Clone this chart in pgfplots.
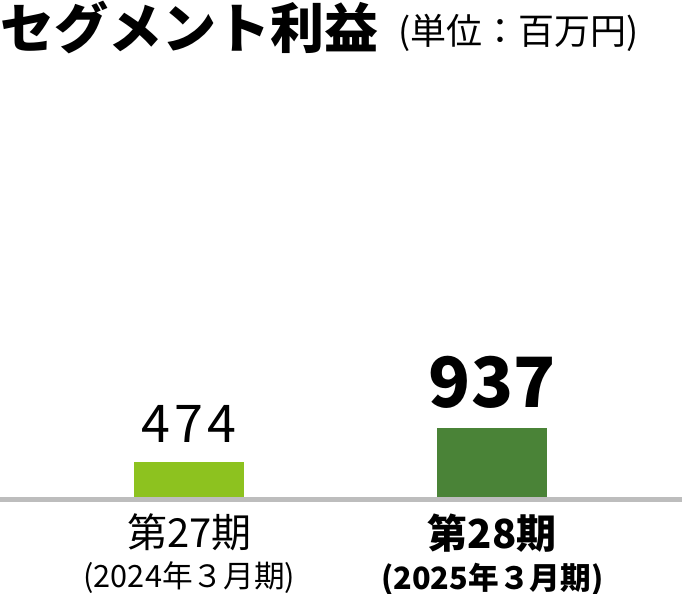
\documentclass[border=0pt]{standalone}
\usepackage{fontspec}
\setmainfont{Noto Sans CJK JP}
\usepackage{pgfplots}
\pgfplotsset{compat=1.18}
\definecolor{lightgreen}{HTML}{8DC21F}
\definecolor{darkgreen}{HTML}{4A8337}
\definecolor{basegray}{HTML}{BDBDBD}

\begin{document}
\begin{tikzpicture}
\useasboundingbox (0,0) rectangle (511.5pt,444.75pt);
% title
\node[anchor=base west, inner sep=0pt] at (0.5pt,408.5pt)
  {\bfseries\fontsize{40.5}{40.5}\selectfont セグメント利益};
\node[anchor=base west, inner sep=0pt] at (298.5pt,411.4pt)
  {\fontsize{27}{27}\selectfont (単位：百万円)};
\begin{axis}[
  at={(0pt,72.3pt)}, anchor=south west,
  scale only axis,
  width=511.5pt, height=312.2pt,
  xmin=-0.6248, xmax=1.626,
  ymin=0, ymax=5696,
  axis line style={draw=none},
  ytick=\empty,
  xtick={0,1},
  xtick style={draw=none},
  major tick length=0pt,
  xticklabels={
    {\fontsize{30}{30}\selectfont 第27期\\[7pt]\fontsize{23}{23}\selectfont (2024年３月期)},
    {\bfseries\fontsize{30}{30}\selectfont 第28期\\[7pt]\bfseries\fontsize{23}{23}\selectfont (2025年３月期)}
  },
  xticklabel style={align=center, anchor=north, inner sep=0pt, yshift=-12.75pt},
  /pgf/number format/assume math mode=true,
  clip=false,
]
\draw[basegray, line width=3.75pt]
  ([yshift=-1.875pt]rel axis cs:0,0) -- ([yshift=-1.875pt]rel axis cs:1,0);
\addplot[ybar, bar width=82.5pt, bar shift=0pt, fill=lightgreen, draw=none,
  nodes near coords,
  every node near coord/.append style={anchor=base, yshift=14.5pt,
    font=\fontsize{39}{39}\selectfont\addfontfeature{LetterSpace=8}, text=black}]
  coordinates {(0,474)};
\addplot[ybar, bar width=82.5pt, bar shift=0pt, fill=darkgreen, draw=none,
  nodes near coords,
  every node near coord/.append style={anchor=base, yshift=15.5pt,
    font=\bfseries\fontsize{52}{52}\selectfont, text=black}]
  coordinates {(1,937)};
\end{axis}
\end{tikzpicture}
\end{document}
